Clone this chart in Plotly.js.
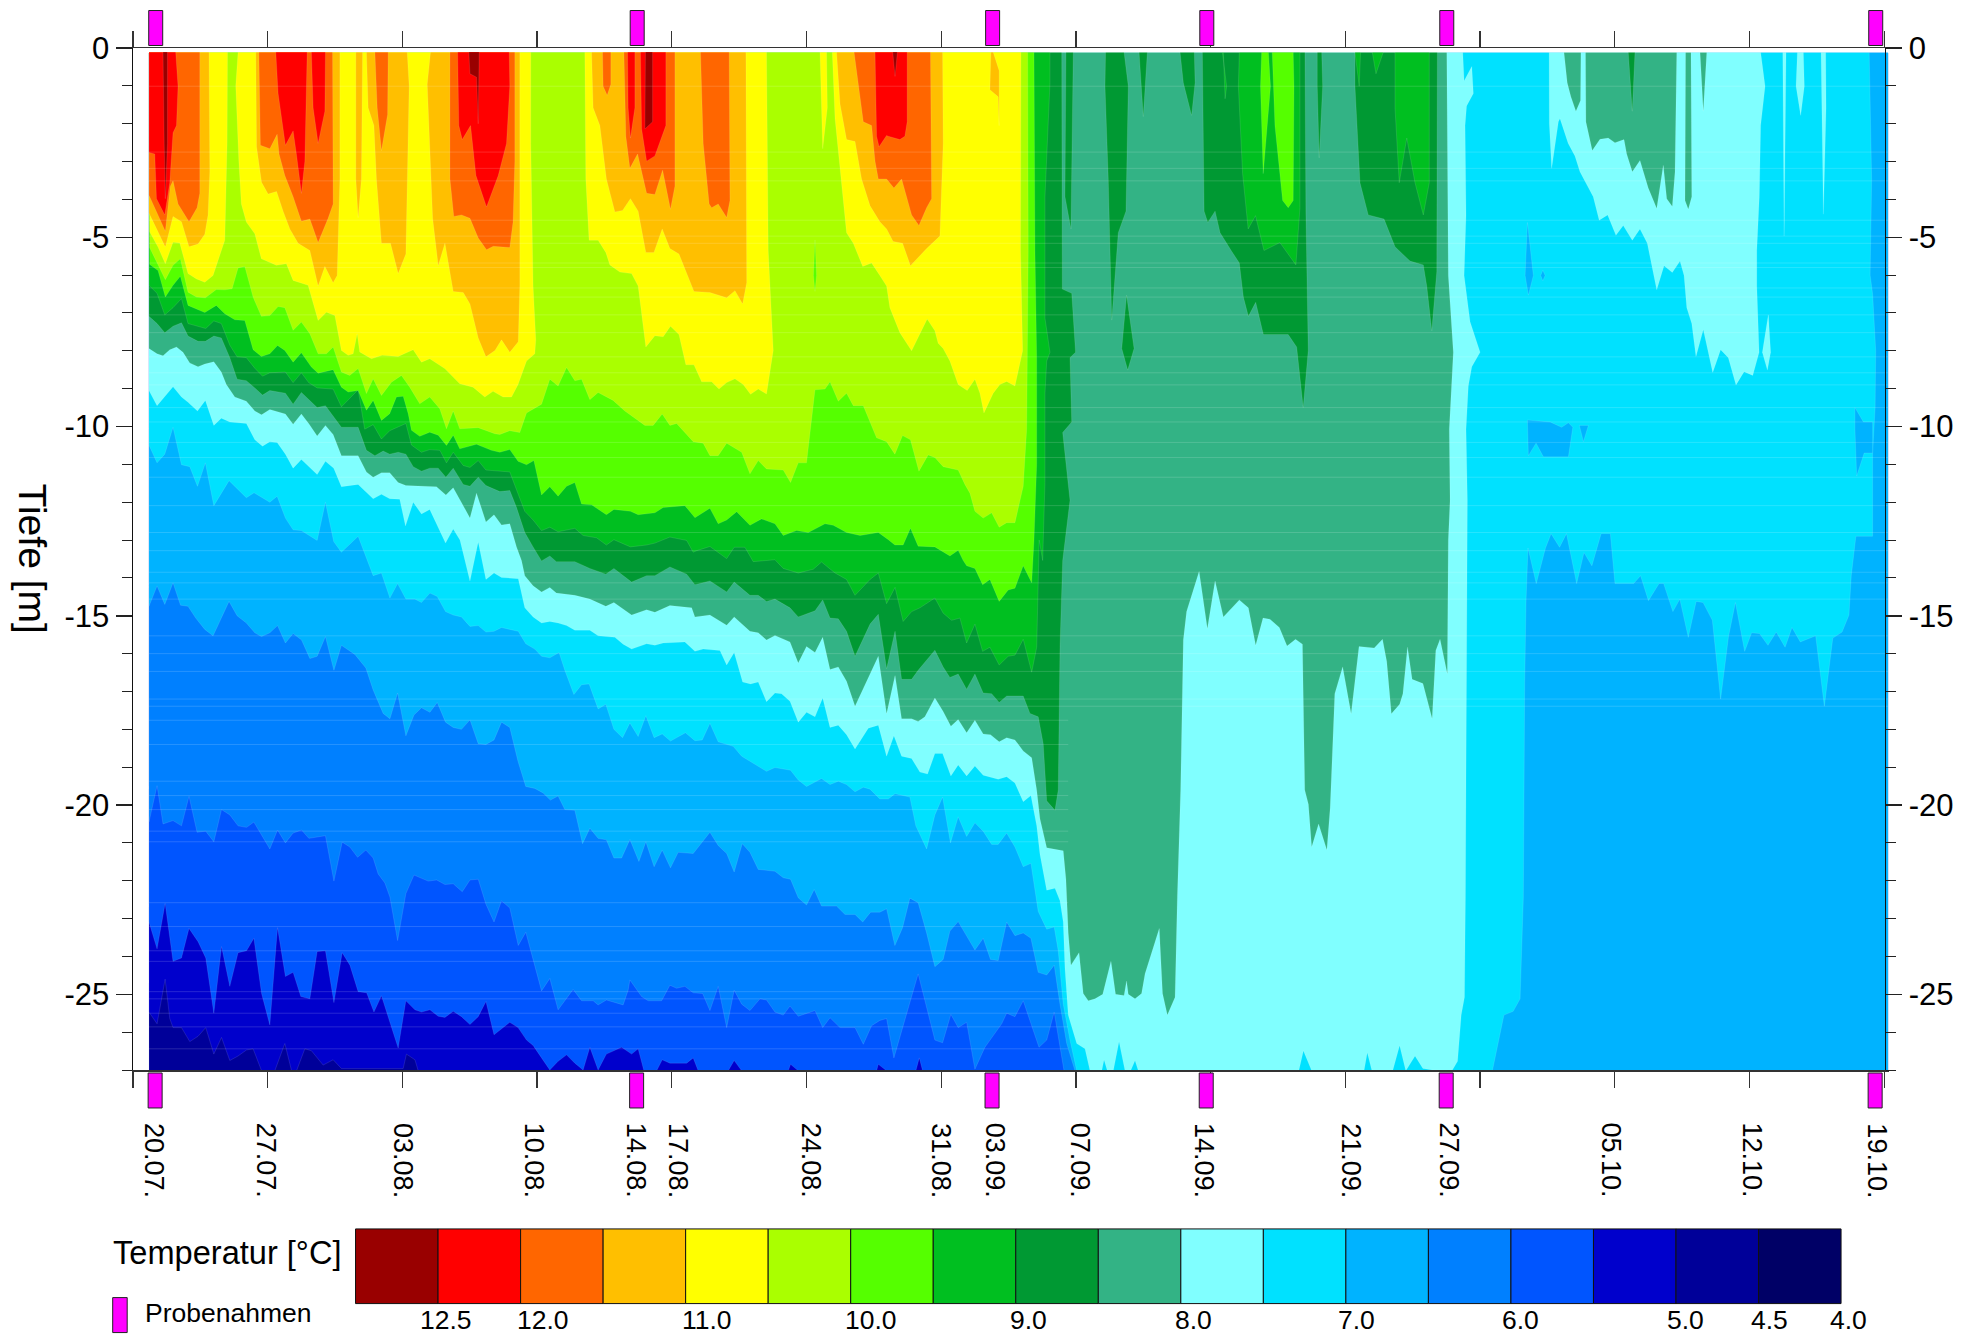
<!DOCTYPE html>
<html><head><meta charset="utf-8">
<script src="https://cdn.plot.ly/plotly-3.0.1.min.js"></script>
<style>html,body{margin:0;padding:0;background:#fff}</style></head>
<body><div id="chart" style="width:1966px;height:1337px"></div>
<script>
const S = 0.11, END = 91.2, BOT = 27.02, START = 0.83;
const bandColors = ['#990000','#ff0000','#ff6600','#ffbf00','#ffff00','#aaff00','#55ff00','#00bf20','#009933','#33b385','#80ffff','#00e1ff','#00b3ff','#0080ff','#0055ff','#0000cc','#000099','#000066'];
const bandLabels = ['12.5','12.0','11.0','10.0','9.0','8.0','7.0','6.0','5.0','4.5','4.0'];
const dateLabels = ['20.07.','27.07.','03.08.','10.08.','14.08.','17.08.','24.08.','31.08.','03.09.','07.09.','14.09.','21.09.','27.09.','05.10.','12.10.','19.10.'];
const dateLabelDays = [1.02,6.85,13.95,20.77,26.08,28.24,35.17,41.9,44.73,49.15,55.58,63.2,68.33,76.75,84.08,90.53];
const sampleDays = [1.18,26.2,44.67,55.8,68.27,90.56];

// isotherms: [day, depth in m] — lower edge of each colour band
const isoB15 = [[.83,25.47],[1.25,25.78],[1.67,24.6],[1.91,25.64],[2.08,25.88],[2.52,25.88],[2.95,26.25],[3.38,26.11],[3.78,25.88],[4.2,26.58],[4.6,26.14],[5.03,26.75],[5.46,26.63],[5.9,26.47],[6.24,26.44],[6.68,27.02],[7.37,27.02],[7.89,26.3],[8.24,27.02],[8.5,27.02],[8.93,26.44],[9.27,26.49],[9.88,26.87],[10.4,26.73],[10.83,26.96],[14.04,26.96],[14.21,26.58],[14.65,26.73],[14.82,27.02],[91.2,27.02]];
const isoB14 = [[.83,23.09],[1.25,23.8],[1.67,22.6],[2.08,24.13],[2.52,24.04],[2.91,23.26],[3.38,23.61],[3.78,24.04],[4.2,25.5],[4.6,23.74],[5.03,24.79],[5.46,23.9],[5.9,23.85],[6.28,23.52],[6.68,24.98],[7.11,25.81],[7.51,23.24],[7.92,24.53],[8.32,24.42],[8.72,25.06],[9.19,25.12],[9.57,23.87],[10,23.85],[10.44,25.22],[10.87,23.9],[11.27,24.23],[11.7,24.93],[12.14,24.96],[12.52,25.47],[12.91,25.04],[13.78,26.42],[14.18,25.17],[14.65,25.41],[14.99,25.47],[15.43,25.41],[15.86,25.58],[16.21,25.61],[16.64,25.45],[17.07,25.59],[17.51,25.8],[17.94,25.59],[18.34,25.19],[18.76,26.07],[19.58,25.74],[20.01,25.88],[20.45,26.21],[20.79,26.35],[21.23,26.68],[21.66,27],[22.09,26.77],[22.53,26.6],[22.96,26.82],[23.39,27],[23.74,26.4],[24.17,27],[24.6,26.58],[25.39,26.4],[25.91,26.58],[26.25,26.44],[26.55,27.02],[27.21,27.02],[27.5,26.73],[27.9,26.82],[28.77,26.82],[29.11,26.68],[29.37,27.02],[30.93,27.02],[31.24,26.75],[31.63,27.02],[34.05,27.02],[34.17,26.85],[34.57,27.02],[38.64,27.02],[38.73,26.85],[39.16,27.02],[40.68,27.02],[40.86,26.68],[41.03,27.02],[91.2,27.02]];
const isoB13 = [[.83,20.45],[1.25,19.49],[1.56,20.5],[2.08,20.41],[2.52,20.55],[2.91,19.77],[3.33,20.72],[3.78,20.69],[4.2,20.97],[4.6,20.12],[5.03,20.26],[5.46,20.55],[5.9,20.59],[6.28,20.45],[7.11,21.16],[7.51,20.66],[7.92,21],[8.32,20.74],[8.76,20.66],[9.14,20.88],[10,20.81],[10.44,22.01],[10.87,20.98],[11.27,21.11],[11.67,21.38],[12.1,21.19],[12.48,21.4],[12.74,21.82],[13.09,22.06],[13.35,22.43],[13.75,23.58],[14.18,22.34],[14.6,21.85],[15.34,22.01],[15.78,21.98],[16.21,22.1],[16.64,22.08],[17.11,22.29],[17.51,21.98],[17.94,21.96],[18.34,22.62],[18.76,23.09],[19.15,22.53],[19.58,22.72],[20.02,23.71],[20.41,23.36],[21.23,24.91],[21.66,24.58],[22.09,25.41],[22.87,24.87],[23.31,25.17],[23.91,25.17],[24.17,25.28],[24.6,25.15],[25.47,25.28],[25.73,24.89],[25.82,24.62],[26.43,25.06],[26.77,25.17],[27.47,25.17],[27.9,24.76],[28.25,24.84],[28.68,24.79],[29.11,24.96],[29.6,24.98],[29.98,25.43],[30.41,24.79],[30.85,25.88],[31.24,24.89],[31.63,25.26],[32.06,25.43],[32.58,25.12],[32.92,25.15],[33.36,25.47],[33.79,25.55],[34.14,25.31],[34.57,25.58],[35.44,25.43],[35.84,25.88],[36.22,25.62],[36.74,25.88],[37.52,25.88],[37.95,26.32],[38.38,25.83],[38.81,25.69],[39.16,25.64],[39.54,26.68],[40.8,24.46],[41.67,26.21],[42.07,26.28],[42.5,25.53],[42.88,25.88],[43.32,25.74],[43.75,26.98],[44.27,26.4],[45.14,25.78],[45.4,25.5],[45.83,25.59],[46.26,25.17],[47.08,26.4],[47.48,26.21],[47.87,25.47],[48.38,27.02],[91.2,27.02]];
const isoB12 = [[.83,14.75],[1.25,14.21],[1.65,14.7],[2.08,14.13],[2.47,14.72],[2.86,14.75],[3.26,15.06],[3.73,15.36],[4.16,15.53],[4.99,14.62],[5.41,15],[5.89,15.19],[6.33,15.45],[6.68,15.55],[7.11,15.45],[7.51,15.26],[7.92,15.72],[8.32,15.47],[8.76,15.64],[9.19,16.13],[9.57,16.07],[10,15.55],[10.44,16.44],[10.83,15.78],[11.53,16.02],[12.1,16.38],[12.48,16.96],[13,17.58],[13.35,17.72],[13.75,17.04],[14.18,18.17],[14.6,17.62],[14.99,17.43],[15.43,17.55],[15.81,17.29],[16.24,17.81],[16.64,17.95],[17.07,18],[17.51,17.75],[17.94,18.38],[18.34,18.4],[18.76,18.28],[19.15,17.81],[19.58,17.95],[20.01,18.85],[20.41,19.51],[20.88,19.56],[21.31,19.68],[21.69,19.87],[22.09,19.76],[22.44,20.12],[22.96,20.14],[23.36,21.02],[23.74,20.61],[24.17,20.88],[24.6,20.92],[24.99,21.4],[25.39,21.4],[25.82,20.91],[26.29,21.49],[26.65,20.97],[27.08,21.63],[27.5,21.19],[27.93,21.66],[28.33,21.25],[29.11,21.28],[29.98,20.72],[30.41,21.07],[30.85,21.28],[31.24,21.77],[31.66,21.02],[32.06,21.25],[32.49,21.7],[33.36,21.75],[33.79,21.92],[34.17,21.96],[34.57,22.45],[35,22.64],[35.4,22.23],[35.78,22.67],[36.56,22.67],[37,22.89],[37.52,22.89],[37.92,23.09],[38.33,22.83],[38.81,22.83],[39.16,22.74],[39.59,23.71],[39.99,23.24],[40.37,22.46],[40.8,22.58],[41.24,23.38],[41.67,24.27],[42.1,24.08],[42.45,23.33],[42.88,23.08],[43.35,23.47],[43.75,23.83],[44.18,23.52],[44.56,24.08],[44.96,24.11],[45.4,23.09],[45.83,23.45],[46.26,23.38],[46.66,23.52],[47.04,24.42],[47.48,24.49],[47.87,24.23],[48.17,25.26],[48.52,26.3],[48.95,27.02],[91.2,27.02]];
const isoB11 = [[.83,10.49],[1.25,10.96],[1.65,10.73],[2.08,10.02],[2.52,11.01],[2.95,11.06],[3.35,11.58],[3.76,10.96],[4.2,12.09],[4.99,11.43],[5.89,11.88],[6.29,11.75],[7.11,12],[7.49,11.84],[7.92,12.42],[8.32,12.73],[8.75,12.75],[9.57,13.01],[10,12],[10.43,13.04],[10.83,13.32],[11.7,12.9],[12.48,13.94],[12.91,13.87],[13.35,14.53],[13.75,14.15],[14.18,14.56],[14.65,14.56],[14.99,14.65],[15.43,14.4],[15.81,14.49],[16.24,14.89],[16.64,14.98],[17.07,15.03],[17.51,15.28],[17.94,15.26],[18.34,15.43],[18.76,15.41],[19.15,15.31],[19.58,15.36],[20.02,15.41],[20.41,15.74],[20.88,15.88],[21.23,16.07],[21.66,16.11],[22.14,15.97],[22.44,16.44],[22.91,17.08],[23.31,16.82],[23.7,16.8],[24.17,17.46],[24.57,17.34],[24.99,18],[25.44,18.22],[25.82,17.83],[26.25,18.19],[26.65,17.64],[27.08,18.22],[27.5,18.12],[27.93,18.31],[28.71,18.09],[29.2,18.3],[29.58,18.28],[29.98,17.84],[30.41,18.33],[31.19,18.45],[31.63,18.71],[32.92,19.11],[33.36,19.01],[34.17,19.08],[34.57,19.34],[35,19.51],[35.78,19.3],[36.22,19.46],[36.65,19.37],[37.08,19.46],[37.52,19.65],[37.95,19.53],[38.3,19.58],[38.81,19.84],[39.25,19.84],[39.6,19.7],[40.37,19.79],[40.68,20.55],[41.24,21.16],[41.67,20.26],[42.07,19.79],[42.48,21],[42.88,20.31],[43.32,20.83],[43.75,20.47],[44.18,20.69],[44.62,21.04],[44.96,21.04],[45.4,20.74],[45.83,21.11],[46.26,21.63],[46.66,21.54],[47.04,22.81],[47.48,23.28],[47.87,23.22],[48.08,23.85],[48.34,25.26],[48.69,26.21],[49.04,27.02],[70.64,27.02],[70.88,26.44],[71.24,25.55],[71.72,25.45],[72.08,25.12],[72.25,22.43],[72.32,16.77],[72.39,14.6],[72.49,13.21],[72.92,14.15],[73.4,13.21],[73.69,12.83],[74.13,13.19],[74.49,12.83],[75.02,14.15],[75.4,13.33],[75.81,13.68],[76.29,12.83],[76.77,12.83],[77.01,14.15],[77.98,14.15],[78.34,13.94],[78.75,14.6],[79.3,14.15],[79.54,14.15],[80.02,14.89],[80.38,14.56],[80.82,15.57],[81.23,14.62],[81.59,14.65],[82.07,15.12],[82.5,17.2],[82.91,15.55],[83.27,14.65],[83.75,15.94],[84.11,15.45],[84.52,15.47],[84.96,15.78],[85.39,15.43],[85.85,15.83],[86.21,15.31],[86.64,15.69],[87.44,15.53],[87.89,17.39],[88.33,15.59],[88.81,15.43],[89.17,14.98],[89.29,13.94],[89.53,12.9],[90.4,12.9],[90.4,10.7],[90.53,9.5],[90.56,8],[90.4,6.5],[90.27,6],[90.35,3.5],[90.22,.11]];
const isoB10 = [[.83,9.05],[1.25,9.45],[1.65,9.22],[2.08,8.95],[2.52,9.22],[2.86,9.36],[3.35,9.59],[3.76,9.31],[4.2,9.97],[4.59,9.78],[5.03,9.88],[5.89,9.92],[6.33,10.35],[6.73,10.52],[7.11,10.4],[7.49,10.42],[7.92,10.73],[8.32,11.1],[8.75,10.87],[9.13,11.06],[9.57,11.27],[10,10.92],[10.43,11.1],[10.83,11.59],[11.7,11.53],[12.48,11.91],[12.91,11.79],[13.34,11.91],[13.86,11.92],[14.16,12.63],[14.56,12],[14.99,12.31],[15.42,12.19],[16.24,13.08],[16.64,12.71],[16.99,13],[17.51,14.08],[17.94,13.05],[18.34,14.04],[18.76,13.87],[19.15,13.99],[20.02,14.02],[20.36,14.79],[20.79,15.03],[21.23,15.19],[21.66,15.15],[22.09,15.19],[22.53,15.26],[22.96,15.38],[23.74,15.38],[24.17,15.53],[24.6,15.55],[25.04,15.57],[25.47,15.75],[25.91,15.88],[26.69,15.74],[27.12,15.78],[27.55,15.72],[28.68,15.69],[29.2,15.94],[29.63,15.88],[30.5,15.92],[30.85,16.3],[31.24,15.97],[31.68,16.75],[32.09,16.8],[32.49,16.75],[32.92,17.27],[33.36,17.04],[33.7,17.06],[34.14,17.26],[34.57,17.81],[35,17.55],[35.44,17.67],[35.84,17.17],[36.22,17.95],[36.65,17.89],[37.08,18.14],[37.52,18.52],[38.21,17.97],[38.73,17.89],[39.16,18.71],[39.54,18.17],[39.94,18.71],[40.46,18.77],[40.89,19.13],[41.29,19.18],[41.67,18.64],[42.07,18.64],[42.5,19.23],[42.88,18.94],[43.32,19.23],[43.75,18.97],[44.18,19.21],[44.96,19.32],[45.4,19.25],[45.83,19.42],[46.26,19.91],[46.66,19.75],[46.96,20.55],[47.13,21.3],[47.48,22.25],[47.91,22.2],[48.17,22.53],[48.34,23.09],[48.43,24.32],[48.6,25.55],[49.04,26.3],[49.47,26.44],[49.73,27.02],[50.34,27.02],[50.46,26.73],[50.63,27.02],[50.94,27.02],[51.24,26.25],[51.55,27.02],[51.84,27.02],[52.07,26.75],[52.24,27.02],[60.58,27.02],[60.82,26.49],[61.25,27.02],[63.97,27.02],[64.14,26.54],[64.38,27.02],[65.46,27.02],[65.82,26.35],[66.14,27.02],[66.62,26.63],[67.03,26.96],[67.51,27],[68.54,27.02],[68.83,26.77],[69.02,25.55],[69.19,25.08],[69.24,22.43],[69.3,13.54],[69.34,11.95],[69.27,10.07],[69.39,8.93],[69.57,8.42],[70,8.04],[69.48,7.23],[69.17,6.01],[69.27,4.41],[69.22,2.05],[69.3,1.53],[69.65,1.2],[69.57,.49],[69.17,.87],[69.1,.11],[73.59,.11],[73.6,2],[73.72,3.18],[74.07,1.95],[74.15,1.86],[74.58,2.52],[74.93,2.85],[75.19,3.27],[75.88,3.93],[76.19,4.55],[76.63,4.41],[77.06,4.95],[77.44,4.69],[77.91,5.08],[78.31,4.78],[78.69,5.16],[79.18,6.39],[79.56,5.75],[79.99,5.93],[80.39,5.63],[80.6,6.01],[80.74,6.86],[81,7.28],[81.22,8.15],[81.6,7.44],[82.09,8.57],[82.5,7.97],[82.9,8.18],[83.3,8.9],[83.72,8.55],[84.17,8.65],[84.5,8.04],[84.38,6.29],[84.38,5.35],[84.51,3.93],[84.58,2.05],[84.81,1.01],[84.58,.11],[85.73,.11],[85.8,4.97],[85.9,.11],[86.49,.11],[86.42,1.01],[86.66,1.78],[86.85,1.01],[86.8,.11],[87.72,.11],[87.84,4.39],[87.98,1.58],[87.96,.11]];
const isoB9 = [[.83,7.94],[1.25,8.08],[1.56,8.13],[1.91,7.97],[2.26,7.9],[2.6,8.04],[2.95,8.32],[3.38,8.42],[3.73,8.35],[4.2,8.29],[4.59,8.56],[4.85,8.89],[5.29,9.22],[5.89,9.33],[6.33,9.59],[6.68,9.69],[7.11,9.55],[7.92,9.67],[8.32,9.94],[8.75,9.67],[9.13,9.92],[9.57,10.25],[10,9.97],[10.4,10.21],[10.83,10.77],[11.7,10.77],[12.13,11.2],[12.48,11.34],[12.91,11.22],[13.34,11.22],[13.78,11.48],[14.18,11.56],[14.99,11.58],[15.77,11.59],[16.26,11.81],[16.64,11.62],[17.16,12.09],[17.51,12.42],[17.85,11.76],[18.34,12.52],[18.76,12.33],[19.15,12.6],[19.58,12.57],[19.93,13.18],[20.19,13.54],[20.36,13.94],[20.79,14.21],[21.23,14.37],[21.66,14.25],[22,14.4],[22.96,14.46],[23.74,14.56],[24.57,14.75],[24.99,14.65],[25.91,14.98],[26.69,14.84],[27.12,14.91],[27.9,14.73],[29.03,14.79],[29.2,15.03],[29.98,14.98],[30.85,15.25],[31.24,15.03],[32.06,15.41],[32.49,15.45],[32.92,15.64],[33.36,15.52],[34.14,15.69],[34.57,16.25],[35,15.81],[35.44,15.97],[35.84,15.57],[36.22,16.42],[36.65,16.35],[37.08,16.73],[37.52,17.39],[38.73,16.07],[39.16,17.59],[39.6,16.58],[39.94,17.72],[40.46,17.72],[40.8,17.79],[41.15,17.67],[41.67,17.17],[42.1,17.53],[42.5,17.92],[42.88,17.74],[43.32,18.09],[43.75,17.76],[44.18,18.12],[44.56,18.14],[45.01,18.33],[45.4,18.22],[45.83,18.28],[46.26,18.57],[46.7,18.75],[46.96,19.6],[47.13,20.36],[47.48,21.13],[48.34,21.21],[48.48,21.96],[48.6,23.38],[48.74,24.23],[49.16,23.9],[49.38,24.98],[49.64,25.17],[49.99,25.12],[50.39,25],[50.82,24.13],[51.06,25],[51.5,25.03],[51.63,24.65],[51.72,25],[52.07,25.12],[52.41,24.98],[52.59,24.46],[53.33,23.26],[53.5,24.98],[53.75,25.55],[54.15,25.08],[54.27,22.43],[54.44,19.6],[54.58,15.64],[54.75,14.89],[55.4,13.83],[55.83,15.34],[56.23,14.08],[56.66,15.03],[57.49,14.58],[57.96,14.79],[58.34,15.78],[58.72,15.06],[59.08,15.09],[59.57,15.31],[59.97,15.8],[60.41,15.62],[60.77,15.75],[60.89,19.6],[61.08,19.98],[61.25,21.11],[61.61,20.5],[62.04,21.19],[62.21,20.08],[62.45,17.06],[62.86,16.35],[63.3,17.59],[63.71,15.81],[64.5,15.85],[64.93,15.62],[65.15,16.21],[65.39,17.59],[65.82,17.34],[65.99,17.06],[66.23,15.83],[66.47,16.68],[67.03,16.79],[67.51,17.72],[67.7,15.92],[67.92,15.62],[68.3,16.54],[68.35,13],[68.44,11.95],[68.4,10.07],[68.61,8.04],[68.35,6.01],[68.27,.11],[74.36,.11],[74.53,.92],[74.72,1.29],[74.98,1.67],[75.22,1.39],[75.24,.11],[75.48,.11],[75.5,1.95],[75.83,2.71],[76.23,2.41],[76.66,2.38],[77.01,2.5],[77.48,2.42],[77.62,2.8],[77.91,3.27],[78.31,2.97],[78.74,3.7],[79.18,4.24],[79.52,3.1],[79.7,3.98],[79.99,4.19],[80.13,3.27],[80.22,.11],[80.68,.11],[80.65,4.03],[80.82,4.26],[81,3.93],[80.96,.11],[81.43,.11],[81.6,1.67],[81.78,.11]];
const isoB8 = [[.83,7.09],[1.25,7.28],[1.65,7.52],[2.08,7.35],[2.52,7.26],[2.86,7.61],[3.38,7.75],[3.76,7.75],[4.2,7.61],[4.59,7.66],[5.03,8.18],[5.41,8.75],[5.89,8.79],[6.33,8.98],[6.73,9.17],[7.11,9.05],[7.92,9.12],[8.32,9.41],[8.75,9.1],[9.57,9.5],[10,9.45],[10.83,10.02],[11.7,10.02],[12.13,10.63],[12.57,10.77],[13,10.65],[13.34,10.73],[13.78,10.68],[14.18,10.73],[14.56,11.06],[14.99,11.18],[15.42,11.1],[15.86,11.1],[16.26,11.34],[16.64,11.1],[17.16,11.53],[17.51,11.58],[17.94,11.34],[18.34,11.56],[19.06,11.72],[19.58,11.69],[19.93,12.14],[20.36,12.8],[20.79,13.18],[21.23,13.55],[21.66,13.42],[22,13.57],[22.96,13.57],[23.74,13.75],[24.57,13.9],[24.99,13.75],[25.91,14.11],[26.69,13.94],[27.12,13.94],[27.9,13.71],[28.77,13.9],[29.2,14.18],[29.98,14.08],[30.85,14.37],[31.24,14.11],[32.06,14.46],[32.49,14.46],[32.92,14.62],[33.36,14.56],[34.14,14.79],[34.57,15.03],[35.44,14.87],[35.84,14.58],[36.22,15.06],[36.65,15.08],[37.08,15.41],[37.52,16.07],[38.3,15.22],[38.73,14.96],[39.16,16.4],[39.6,15.41],[39.94,16.68],[40.46,16.68],[40.8,16.44],[41.67,15.91],[42.1,16.35],[42.45,16.63],[42.88,16.54],[43.32,16.94],[43.75,16.54],[44.18,17.04],[44.62,17.06],[45.01,17.29],[45.4,17.12],[46.26,17.12],[46.61,17.58],[47.04,17.67],[47.3,18.38],[47.48,19.89],[47.91,20.14],[48.08,19.6],[48.17,15.83],[48.31,13.54],[48.69,11.95],[48.31,10.16],[48.78,9.88],[48.69,8.18],[48.98,8.04],[48.78,6.48],[48.29,6.37],[48.26,.11],[48.48,.11],[48.43,3.93],[48.74,4.78],[48.86,.11],[50.54,.11],[50.51,1.01],[50.68,3.46],[50.86,7.19],[51.2,4.88],[51.6,4.31],[51.72,1.01],[51.5,.11],[52.28,.11],[52.5,1.81],[52.71,.11],[54.41,.11],[54.58,.92],[55.01,1.78],[55.19,.92],[55.15,.11],[55.57,.11],[55.66,4.31],[55.85,4.61],[56.23,4.31],[56.49,4.88],[57.09,5.37],[57.49,5.68],[57.7,6.58],[57.96,7.09],[58.34,6.72],[58.74,7.57],[60.03,7.57],[60.47,7.9],[60.81,9.5],[61.07,7.99],[60.95,4.41],[60.9,.11],[61.54,.11],[61.54,1.01],[61.64,2.9],[61.82,1.01],[61.77,.11],[63.5,.11],[63.5,1.01],[63.76,3.56],[64.19,4.41],[65.01,4.52],[65.58,5.25],[66.36,5.63],[67.05,5.73],[67.23,6.29],[67.49,7.47],[67.75,5.91],[67.78,.11],[77.7,.11],[77.91,1.67],[78.05,.11]];
const isoB7 = [[.83,6.27],[1.25,6.48],[1.65,7.05],[2.08,6.86],[2.52,6.62],[2.86,7.28],[3.38,7.35],[3.78,7.41],[4.2,7.21],[4.59,7.28],[5.03,7.85],[5.41,8.16],[5.89,8.18],[6.33,8.46],[6.73,8.67],[7.11,8.58],[7.92,8.56],[8.32,8.84],[8.75,8.58],[9.13,8.84],[9.57,8.98],[10.4,9.01],[10.83,9.48],[11.7,9.03],[12.04,10.07],[12.48,9.95],[12.91,10.33],[13.34,10.11],[14.18,9.92],[14.47,10.49],[14.99,10.68],[15.42,10.61],[15.95,10.63],[16.29,10.96],[16.64,10.68],[17.16,11.03],[17.51,11.08],[17.94,10.9],[18.34,11.15],[19.58,11.2],[19.93,11.67],[20.36,12.24],[20.79,12.47],[21.23,12.75],[21.66,12.66],[22.09,12.78],[22.96,12.69],[23.39,12.88],[24.09,12.94],[24.6,13.13],[24.99,12.99],[25.85,13.18],[26.69,13.13],[27.12,13.08],[27.9,12.92],[28.77,13.01],[29.11,13.32],[29.29,13.28],[29.98,13.17],[30.85,13.49],[31.24,13.19],[31.8,13.19],[32.23,13.57],[33.36,13.52],[33.79,13.75],[34.57,13.87],[35.35,13.77],[35.78,13.58],[36.48,13.87],[37.08,14.04],[37.52,14.46],[38.3,14.04],[38.73,13.87],[39.16,14.68],[39.6,14.25],[40.02,15.15],[40.46,14.89],[40.89,14.79],[41.67,14.53],[42.1,14.93],[42.54,15.12],[42.97,15.06],[43.32,15.72],[43.75,15.22],[44.15,15.94],[44.53,15.83],[45.01,16.3],[45.48,16.07],[45.83,16.04],[46.26,15.62],[46.7,16.49],[46.96,15.83],[47.09,13],[47.27,13.54],[47.39,11.48],[47.39,9.12],[47.48,8.27],[47.65,8.04],[47.39,7.14],[47.39,3.93],[47.65,.92],[47.65,.11],[56.61,.11],[56.83,1.01],[56.75,1.34],[56.66,.11],[57.49,.11],[57.44,1.01],[57.66,3.32],[57.95,4.78],[58.33,4.43],[58.77,5.35],[59.6,5.14],[60.43,5.73],[60.64,4.22],[60.64,.11],[63.5,.11],[63.72,1.01],[63.79,.11],[64.4,.11],[64.59,.68],[64.97,.11],[65.58,.11],[65.58,1.58],[65.8,3.56],[66.19,2.38],[66.62,3.56],[67.05,4.41],[67.36,3.56],[67.36,.11]];
const isoB6 = [[.87,5.72],[1.3,5.88],[1.68,6.58],[2.08,6.27],[2.46,6.03],[2.86,6.8],[3.3,6.89],[3.73,6.99],[4.33,6.8],[4.77,7.02],[5.29,7.18],[5.81,7.2],[6.24,7.97],[6.67,8.15],[7.11,8.08],[7.51,7.86],[7.89,7.99],[8.32,8.3],[8.75,8.05],[9.27,8.43],[9.62,8.59],[10.4,8.5],[10.83,8.96],[11.18,9.09],[11.7,9.05],[12.13,9.57],[12.48,9.31],[12.91,9.84],[13.34,9.66],[13.69,9.22],[14.04,9.2],[14.3,9.66],[14.47,10.1],[14.9,10.26],[15.42,10.15],[15.86,10.23],[16.29,10.5],[16.64,10.23],[16.98,10.59],[17.85,10.47],[18.63,10.63],[19.06,10.68],[19.58,10.61],[20.01,10.92],[20.45,11.01],[20.83,10.9],[21.23,11.81],[21.66,11.59],[22.09,11.84],[22.53,11.58],[22.96,11.48],[23.31,12.05],[23.83,12.07],[24.6,12.33],[24.99,12.19],[25.85,12.24],[26.25,12.33],[27.12,12.28],[27.55,12.14],[28.68,12.09],[29.2,12.41],[29.98,12.16],[30.41,12.57],[30.85,12.47],[31.37,12.25],[32.06,12.61],[32.66,12.44],[33.36,12.57],[33.79,12.88],[34.48,12.75],[35.09,12.8],[35.96,12.57],[36.39,12.61],[37.08,12.8],[37.78,12.88],[38.73,12.8],[39.25,12.99],[39.59,13.13],[40.02,13.13],[40.4,12.69],[40.8,13.16],[41.67,13.18],[42.45,13.42],[42.88,13.27],[43.14,13.54],[43.32,13.68],[43.75,13.75],[44.15,14.18],[44.53,14.04],[45.01,14.62],[45.48,14.32],[45.83,14.27],[46.26,13.68],[46.7,14.13],[46.82,13],[46.96,11.01],[46.96,8.18],[46.87,5.35],[46.82,.11],[58.65,.11],[58.59,1.01],[58.73,3.32],[59.11,1.01],[59,.11],[59.2,.11],[59.34,2.05],[59.74,4.03],[60.03,4.22],[60.29,4.03],[60.33,1.01],[60.29,.11]];
const isoB5 = [[.87,5.28],[1.68,6.12],[2.08,5.74],[2.46,5.57],[2.86,6.45],[3.3,6.58],[3.76,6.6],[4.33,6.38],[4.77,6.39],[5.15,6.36],[5.46,5.81],[5.81,5.77],[6.24,6.58],[6.67,7.09],[7.11,7.07],[7.54,6.83],[7.89,6.86],[8.32,7.46],[8.75,7.24],[9.19,7.55],[9.62,8.08],[10.05,8.08],[10.4,7.9],[10.83,8.56],[11.26,8.65],[11.7,8.47],[12.13,9.13],[12.48,8.74],[12.91,9.18],[13.43,8.83],[13.95,8.65],[14.38,8.96],[14.9,9.4],[15.42,9.22],[15.94,9.53],[16.29,10.06],[16.64,9.59],[16.98,10.06],[17.94,10.03],[18.8,10.19],[19.06,10.21],[19.58,10.11],[20.1,10.16],[20.45,9.64],[21.23,9.41],[21.66,8.75],[22.09,8.93],[22.53,8.44],[22.96,8.79],[23.31,8.75],[23.74,9.29],[24.17,9.1],[24.95,9.31],[25.56,9.59],[26.6,9.97],[27.03,9.97],[27.5,9.67],[27.9,9.97],[28.25,9.92],[29.11,10.4],[29.63,10.44],[29.98,10.77],[30.41,10.77],[30.85,10.44],[31.63,10.68],[32.06,11.25],[32.49,10.9],[32.92,11.12],[33.79,11.15],[34.17,11.48],[34.57,10.96],[35,10.96],[35.44,9.03],[35.96,9.01],[36.22,8.82],[36.65,9.33],[37.08,9.12],[37.43,9.45],[37.95,9.45],[38.64,10.3],[39.16,10.4],[39.59,10.73],[39.99,10.24],[40.4,10.35],[40.84,11.18],[41.32,10.75],[41.67,10.82],[42.1,11.06],[42.88,11.15],[43.23,11.53],[43.49,11.76],[43.75,12.24],[44.18,12.42],[44.62,12.28],[45.01,12.66],[45.4,12.54],[45.83,12.54],[46.26,11.58],[46.44,10.07],[46.52,5.35],[46.49,.11]];
const isoB4 = [[.87,4.86],[1.3,5.26],[1.68,5.7],[2.08,5.13],[2.43,5.15],[2.86,5.96],[3.3,6.1],[3.73,6.19],[4.16,6.01],[4.77,5.08],[4.89,2.52],[4.91,.11],[5.46,.11],[5.34,1],[5.5,3],[5.63,4.12],[5.89,4.6],[6.33,4.91],[6.67,5.57],[7.45,5.74],[7.97,5.7],[8.32,6.14],[9.1,6.27],[9.62,7.2],[10.05,6.98],[10.49,7.07],[10.83,7.99],[11.18,8.12],[11.44,8.08],[11.65,7.55],[11.78,8.03],[12.39,8.21],[12.95,8.12],[13.78,8.15],[14.56,7.97],[14.99,8.3],[15.42,8.21],[16.2,8.47],[16.98,8.87],[17.67,8.96],[18.28,9.22],[18.71,9.07],[19.23,9.22],[19.67,9.22],[20.01,8.89],[20.45,8.27],[20.88,8.08],[20.93,7.71],[20.79,6.29],[20.67,2.52],[20.67,.11],[23.48,.11],[23.53,3.46],[23.7,5.08],[24.17,5.08],[24.57,5.4],[24.78,5.73],[25.3,5.92],[25.91,5.96],[26.25,6.29],[26.65,7.9],[27.12,7.6],[27.55,7.63],[27.93,7.35],[28.37,7.57],[28.73,8.37],[29.15,8.37],[29.55,8.82],[30.07,8.82],[30.45,9.01],[30.85,8.84],[31.28,8.74],[31.71,8.89],[32.09,9.15],[32.49,9.01],[32.92,9.14],[33.27,7.99],[33.01,5.35],[32.92,.11],[35.7,.11],[35.84,2.66],[36.08,1.58],[36.04,.11],[36.34,.11],[36.48,1.86],[37.08,4.88],[37.43,5.16],[37.92,5.77],[38.38,5.68],[38.81,6.01],[39.16,6.29],[39.33,6.86],[39.85,7.52],[40.46,8],[40.89,7.57],[41.27,7.16],[41.67,7.47],[41.84,7.8],[42.1,7.94],[42.45,8.27],[42.88,8.89],[43.35,9.05],[43.75,8.75],[44.01,9.12],[44.22,9.64],[44.7,9.12],[45.05,8.89],[45.4,8.81],[45.83,8.93],[46.23,8],[46.12,5.35],[46.14,.11]];
const isoB3 = [[.83,4.36],[1.68,5.26],[2.08,4.45],[2.52,4.59],[2.91,5.25],[3.38,5.18],[3.73,4.92],[3.9,4.41],[3.99,3.27],[3.95,.11],[6.38,.11],[6.42,2.61],[6.68,3.55],[7.02,3.86],[7.46,3.79],[7.8,4.31],[8.15,4.78],[8.58,5.16],[9.19,5.35],[9.62,6.29],[9.97,5.77],[10.4,6.2],[10.61,6.01],[10.75,3.46],[10.75,.11],[11.58,.11],[11.58,3.46],[11.7,4.48],[11.87,3.46],[11.93,.11],[12.13,.11],[12.22,1.58],[12.52,2.05],[12.65,3.46],[12.91,5.16],[13.38,5.16],[13.78,5.96],[14.18,5.44],[14.35,1.01],[14.25,.11],[15.46,.11],[15.29,.96],[15.57,4.5],[15.86,5.75],[16.21,5.16],[16.64,6.43],[17.16,6.46],[17.51,6.76],[17.94,7.66],[18.34,8.16],[18.81,7.99],[19.15,7.71],[19.58,8.04],[20.02,7.76],[20.1,6.29],[20.1,.11],[23.83,.11],[23.91,1.58],[24.26,2.05],[24.6,3.46],[25.04,4.33],[25.44,4.29],[25.85,3.98],[26.25,4.31],[26.65,5.4],[27.07,5.4],[27.5,4.78],[27.9,5.3],[28.37,5.44],[29.15,6.43],[29.98,6.46],[30.85,6.6],[31.28,6.41],[31.68,6.76],[31.89,6.2],[31.85,.11],[36.56,.11],[36.74,1.48],[37.08,2.42],[37.52,2.47],[37.86,3.46],[38.3,4.17],[38.81,4.59],[39.16,4.78],[39.5,5.11],[39.99,5.16],[40.4,5.75],[41.24,5.3],[41.93,4.97],[42.1,2.52],[42.07,.11],[44.58,.11],[44.53,1.1],[44.96,1.29],[45.01,2.05],[45.01,.6],[44.7,.11]];
const isoB2 = [[.83,3.89],[1.68,4.84],[1.94,3.65],[2.08,3.51],[2.34,4.12],[2.91,4.59],[3.33,4.22],[3.47,3.84],[3.47,.11],[6.54,.11],[6.62,2.57],[7.11,2.66],[7.49,2.28],[7.59,2.8],[7.89,3.37],[8.32,3.93],[8.75,4.58],[9.19,4.52],[9.62,5.14],[10.14,4.5],[10.4,4.12],[10.37,.11],[12.57,.11],[12.69,1.58],[12.91,2.71],[13.23,1.76],[13.26,.11],[16.47,.11],[16.47,3.46],[16.67,4.45],[17.07,4.41],[17.51,4.5],[17.94,5.02],[18.37,5.33],[18.72,5.24],[19.58,5.27],[19.75,4.59],[19.84,3],[19.84,.11],[24.4,.11],[24.43,1.01],[24.64,1.25],[24.83,.96],[24.83,.11],[25.51,.11],[25.61,2.33],[25.82,3.18],[26.22,2.8],[26.69,3.84],[27.12,3.87],[27.52,3.23],[27.93,4.26],[28.16,3.65],[28.16,.11],[29.49,.11],[29.63,2.52],[29.94,4.12],[30.07,4.22],[30.41,4.12],[30.85,4.48],[31.02,4.03],[30.98,.11],[37.47,.11],[37.95,1.95],[38.38,2.05],[38.56,2.99],[38.73,3.46],[39.16,3.46],[39.54,3.7],[39.94,3.46],[40.2,3.93],[40.46,4.41],[40.84,4.69],[41.24,4.22],[41.5,3.98],[41.44,.11]];
const isoB1 = [[.83,2.76],[1.13,2.8],[1.22,3.98],[1.65,4.41],[1.91,3.56],[2.08,2.24],[2.26,2.05],[2.34,1.01],[2.22,.11],[7.42,.11],[7.54,1.2],[7.92,2.57],[8.32,2.19],[8.49,2.8],[8.75,3.84],[8.93,2.99],[9.05,.11],[9.27,.11],[9.36,1.58],[9.62,2.52],[9.97,1.67],[10,.11],[16.87,.11],[16.93,2.05],[17.11,2.42],[17.54,2.05],[17.82,3.37],[18.37,4.2],[18.98,3.37],[19.41,2.52],[19.58,1.01],[19.55,.11],[25.7,.11],[25.73,1.58],[25.85,2.38],[26.08,1.58],[26.08,.11],[26.37,.11],[26.43,2.14],[26.69,2.99],[27.12,2.85],[27.69,2.05],[27.69,.11],[38.56,.11],[38.64,2.33],[38.77,2.61],[39.16,2.31],[39.24,2.33],[39.85,2.42],[40.11,2.33],[40.23,1.95],[40.23,.11]];
const isoB0 = [[1.56,.11],[1.62,2.52],[1.68,3.98],[1.79,2.52],[1.79,.11],[17.45,.11],[17.51,.68],[17.85,.77],[17.94,2],[17.99,.11],[26.63,.11],[26.6,2.14],[27,1.95],[27,.11],[39.48,.11],[39.6,.75],[39.72,.11]];

// isolated patches: [colour index, outline]
const patchesData = [
 [12,[[72.46,9.83],[73.64,9.88],[74.24,10.02],[74.59,9.9],[74.82,10.02],[74.59,10.8],[73.29,10.8],[72.91,10.44],[72.51,10.77]]],
 [12,[[75.16,9.97],[75.63,9.97],[75.37,10.4]]],
 [12,[[72.46,4.61],[72.77,6.01],[72.51,6.53],[72.34,6.01]]],
 [12,[[73.26,5.87],[73.38,6.01],[73.26,6.15],[73.15,6.01]]],
 [12,[[89.48,9.5],[89.92,9.88],[90.4,9.88],[90.4,10.7],[89.96,10.7],[89.57,11.31],[89.48,10.07]]],
 [10,[[84.98,7.05],[85.1,8.04],[84.93,8.51],[84.67,8.04]]],
 [8,[[51.63,6.53],[52.02,7.94],[51.69,8.51],[51.38,7.94]]],
 [6,[[35.44,5.07],[35.52,6.01],[35.44,6.43],[35.36,6.01]]]
];
const seamsFull = [1.01,2.75,3.18,3.51,4.55,4.97,5.16,5.68,5.8,6.34,6.58,7.05,7.52,8.16,8.58,8.9,9.5,9.88,10.42,10.82,11.34,12.09,12.8,13.28,13.85,14.13,14.56,15.53,16,16.47,17.2,17.39];
const seamsLeft = [17.76,18.4,19.37,19.75,20.12,20.69,20.97,22.58,23.21,23.85,24.13,24.93,25.12,25.5,25.86,26.44];

const px = X => (X-133.3)/1755.7;
const py = Y => (1070-Y)/1022.5;

function polygon(points,color,close){
  const pts = close ? points : [[START,S]].concat(points,[[END,S]]);
  return {type:'scatter',mode:'lines',x:pts.map(p=>p[0]),y:pts.map(p=>-p[1]),fill:'toself',fillcolor:color,
    line:{color:'rgba(255,255,255,0.18)',width:0.6},hoverinfo:'skip',showlegend:false};
}
const traces = [polygon([[START,BOT],[END,BOT]],bandColors[16],false)];
[[isoB15,15],[isoB14,14],[isoB13,13],[isoB12,12],[isoB11,11],[isoB10,10],[isoB9,9],[isoB8,8],[isoB7,7],[isoB6,6],[isoB5,5],[isoB4,4],[isoB3,3],[isoB2,2],[isoB1,1],[isoB0,0]]
  .forEach(([iso,k])=>traces.push(polygon(iso,bandColors[k],false)));
patchesData.forEach(([k,pts])=>traces.push(polygon(pts.concat([pts[0]]),bandColors[k],true)));
const sx=[],sy=[];
seamsFull.forEach(z=>{sx.push(START,END,null);sy.push(-z,-z,null);});
seamsLeft.forEach(z=>{sx.push(START,48.6,null);sy.push(-z,-z,null);});
traces.push({type:'scatter',mode:'lines',x:sx,y:sy,line:{color:'rgba(255,255,255,0.15)',width:1},hoverinfo:'skip',showlegend:false});
traces.push({type:'scatter',mode:'lines',x:[0],y:[0],yaxis:'y2',line:{width:0},hoverinfo:'skip',showlegend:false});

const shapes=[], annotations=[];
const markerHalf = 7/19.24;
sampleDays.forEach(d=>{
  shapes.push({type:'rect',xref:'x',yref:'paper',x0:d-markerHalf,x1:d+markerHalf,y0:py(45),y1:py(10),fillcolor:'#ff00ff',line:{color:'#222',width:1}});
  shapes.push({type:'rect',xref:'x',yref:'paper',x0:d-markerHalf-0.03,x1:d+markerHalf-0.03,y0:py(1108),y1:py(1073),fillcolor:'#ff00ff',line:{color:'#222',width:1}});
});
bandColors.forEach((c,i)=>{
  shapes.push({type:'rect',xref:'paper',yref:'paper',x0:px(355.8+i*82.515),x1:px(355.8+(i+1)*82.515),y0:py(1303.7),y1:py(1229),fillcolor:c,line:{color:'#111',width:1}});
});
shapes.push({type:'rect',xref:'paper',yref:'paper',x0:px(113),x1:px(127.5),y0:py(1332.7),y1:py(1297.7),fillcolor:'#ff00ff',line:{color:'#222',width:1}});

const font = {family:'"Liberation Sans",Arial,sans-serif',color:'#000'};
dateLabels.forEach((t,i)=>annotations.push({text:t,xref:'x',yref:'paper',x:dateLabelDays[i]+0.05,y:py(1121),yanchor:'top',xanchor:'center',textangle:90,showarrow:false,font:{...font,size:27}}));
const legendLabelX = [446,543,707,870.7,1028.8,1193.5,1357,1521,1686,1770,1848.5];
bandLabels.forEach((t,i)=>annotations.push({text:t,xref:'paper',yref:'paper',x:px(legendLabelX[i]),y:py(1320),xanchor:'center',yanchor:'middle',showarrow:false,font:{...font,size:26.5}}));
annotations.push({text:'Temperatur [°C]',xref:'paper',yref:'paper',x:px(111),y:py(1253),xanchor:'left',yanchor:'middle',showarrow:false,font:{...font,size:32.6}});
annotations.push({text:'Probenahmen',xref:'paper',yref:'paper',x:px(143.5),y:py(1313),xanchor:'left',yanchor:'middle',showarrow:false,font:{...font,size:26.5}});
annotations.push({text:'Tiefe [m]',xref:'paper',yref:'paper',x:px(33),y:py(558),xanchor:'center',yanchor:'middle',textangle:90,showarrow:false,font:{...font,size:39}});

const yTickVals=[0,-5,-10,-15,-20,-25];
const yTickText=['0','-5','-10','-15','-20','-25'];
const yAxisBase={range:[-27,0],tickmode:'array',tickvals:yTickVals,ticktext:yTickText,ticks:'outside',ticklen:16,tickwidth:1.5,tickcolor:'#222',
  showgrid:false,zeroline:false,showline:true,linecolor:'#111',linewidth:1.5,tickfont:{...font,size:31},
  minor:{tickmode:'linear',tick0:0,dtick:1,ticks:'outside',ticklen:10,tickwidth:1,tickcolor:'#222',showgrid:false}};
const layout={
  width:1966,height:1337,paper_bgcolor:'#fff',plot_bgcolor:'#fff',showlegend:false,
  margin:{l:133.3,r:77,t:47.5,b:267,pad:0},
  xaxis:{range:[0,91.25],tickmode:'linear',tick0:0,dtick:7,ticks:'outside',ticklen:16,tickwidth:1.3,tickcolor:'#333',showticklabels:false,
    showgrid:false,zeroline:false,showline:true,linecolor:'#333',linewidth:1.5,mirror:'ticks'},
  yaxis:yAxisBase,
  yaxis2:{...yAxisBase,overlaying:'y',side:'right',anchor:'free',position:px(1885)},
  shapes,annotations
};
Plotly.newPlot('chart',traces,layout,{staticPlot:true,displayModeBar:false});
</script></body></html>
